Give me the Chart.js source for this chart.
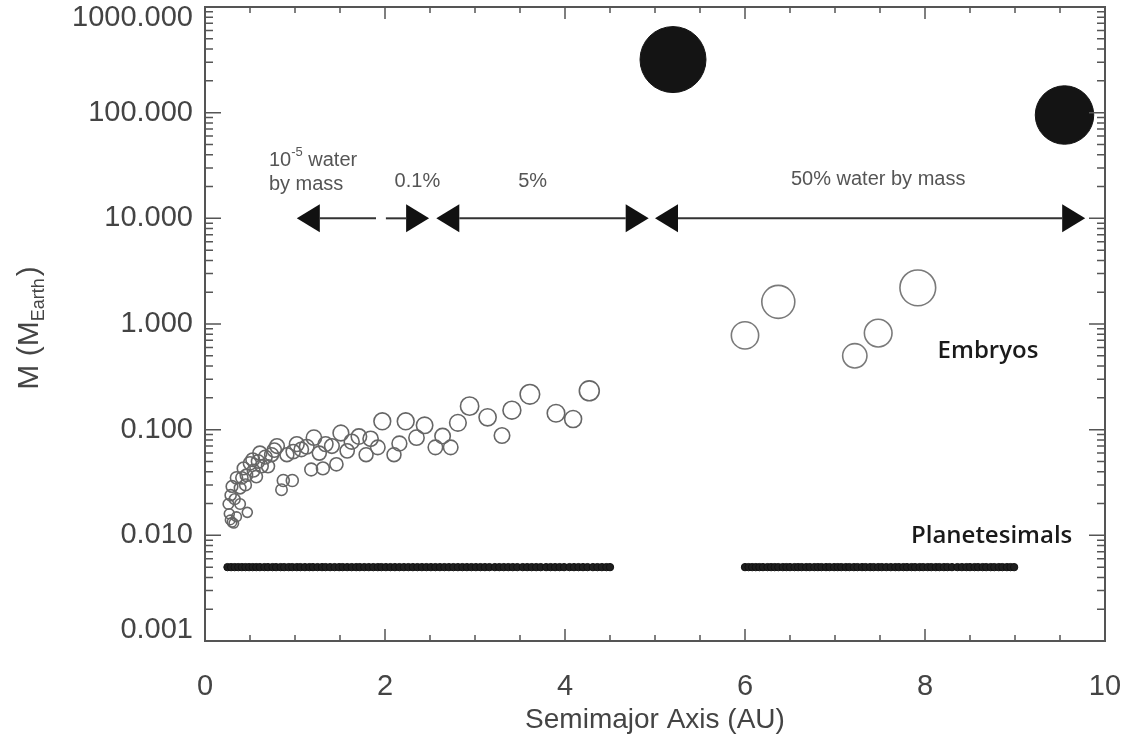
<!DOCTYPE html>
<html>
<head>
<meta charset="utf-8">
<script src="https://cdn.jsdelivr.net/npm/chart.js@4.4.0/dist/chart.umd.min.js"></script>
<style>
  html, body { margin: 0; padding: 0; background: #fff; }
  #wrap { width: 1130px; height: 755px; }
</style>
</head>
<body>
<div id="wrap"><canvas id="massChart"></canvas></div>
<script>
// Semimajor axis (AU) and mass (Earth masses)
const giantA = [5.2, 9.55];
const giantM = [318, 95];

const outerEmbryoA = [6.0, 6.37, 7.22, 7.48, 7.92];
const outerEmbryoM = [0.78, 1.62, 0.50, 0.82, 2.2];

const innerEmbryoA = [0.26, 0.27, 0.28, 0.285, 0.30, 0.30, 0.32, 0.33, 0.35, 0.35,
    0.39, 0.39, 0.41, 0.43, 0.46, 0.47, 0.50, 0.53, 0.54, 0.57,
    0.59, 0.63, 0.67, 0.70, 0.74, 0.80, 0.85, 0.87, 0.91, 0.97,
    0.98, 1.02, 1.07, 1.13, 1.18, 1.21, 1.27, 1.31, 1.34, 1.41,
    1.46, 1.51, 1.58, 1.63, 1.71, 1.79, 1.84, 1.92, 1.97, 2.10,
    2.16, 2.23, 2.35, 2.44, 2.56, 2.64, 2.73, 2.81, 2.94, 3.14,
    3.30, 3.41, 3.61, 3.90, 4.09, 4.27, 0.45, 0.61, 0.77];
const innerEmbryoM = [0.0198, 0.016, 0.014, 0.024, 0.0133, 0.029, 0.013, 0.022, 0.015, 0.035,
    0.028, 0.0198, 0.035, 0.043, 0.037, 0.0165, 0.048, 0.052, 0.041, 0.036,
    0.050, 0.045, 0.055, 0.045, 0.058, 0.070, 0.027, 0.033, 0.058, 0.033,
    0.062, 0.073, 0.065, 0.069, 0.042, 0.084, 0.060, 0.043, 0.073, 0.070,
    0.047, 0.093, 0.063, 0.077, 0.086, 0.058, 0.082, 0.068, 0.12, 0.058,
    0.074, 0.12, 0.084, 0.11, 0.068, 0.087, 0.068, 0.116, 0.167, 0.131,
    0.088, 0.153, 0.216, 0.143, 0.126, 0.233, 0.030, 0.060, 0.064];

const planetesimalInnerA = [0.25, 0.29, 0.33, 0.37, 0.41, 0.45, 0.49, 0.53, 0.57, 0.61,
    0.66, 0.70, 0.75, 0.79, 0.84, 0.88, 0.93, 0.97, 1.02, 1.06,
    1.11, 1.16, 1.20, 1.25, 1.30, 1.34, 1.39, 1.44, 1.49, 1.53,
    1.58, 1.63, 1.68, 1.72, 1.77, 1.82, 1.87, 1.92, 1.96, 2.01,
    2.06, 2.11, 2.16, 2.21, 2.26, 2.31, 2.36, 2.41, 2.46, 2.51,
    2.56, 2.61, 2.66, 2.71, 2.76, 2.81, 2.86, 2.91, 2.96, 3.01,
    3.06, 3.11, 3.16, 3.22, 3.27, 3.32, 3.37, 3.42, 3.47, 3.53,
    3.58, 3.63, 3.68, 3.73, 3.79, 3.84, 3.89, 3.94, 3.99, 4.05,
    4.10, 4.15, 4.20, 4.25, 4.31, 4.36, 4.41, 4.46, 4.50];
const planetesimalOuterA = [6.00, 6.04, 6.08, 6.12, 6.16, 6.20, 6.25, 6.29, 6.33, 6.37,
    6.42, 6.46, 6.50, 6.55, 6.59, 6.63, 6.68, 6.72, 6.77, 6.81,
    6.85, 6.90, 6.94, 6.99, 7.03, 7.07, 7.12, 7.16, 7.21, 7.25,
    7.30, 7.34, 7.39, 7.43, 7.48, 7.52, 7.57, 7.62, 7.67, 7.71, 7.76,
    7.80, 7.85, 7.89, 7.94, 7.98, 8.03, 8.07, 8.12, 8.16, 8.21,
    8.25, 8.30, 8.36, 8.41, 8.46, 8.50, 8.55, 8.59, 8.64, 8.68, 8.73, 8.77,
    8.82, 8.86, 8.91, 8.95, 8.99];
const planetesimalM = 0.005;

const massTicks = [0.001, 0.01, 0.1, 1, 10, 100, 1000];
const axisTicks = [0, 2, 4, 6, 8, 10];

// water content zones along M = 10
const zoneMass = 10;
const waterZones = [
    { from: 1.02, to: 1.90, headFrom: true, headTo: false },
    { from: 2.01, to: 2.49, headFrom: false, headTo: true },
    { from: 2.57, to: 4.93, headFrom: true, headTo: true },
    { from: 5.00, to: 9.78, headFrom: true, headTo: true }
];
const zoneLabels = [
    { parts: [['10', 0], ['-5', 1], [' water', 0]], a: 0.71, m: 35.5, align: 'left' },
    { parts: [['by mass', 0]], a: 0.71, m: 21, align: 'left' },
    { parts: [['0.1%', 0]], a: 2.36, m: 22.5, align: 'center' },
    { parts: [['5%', 0]], a: 3.64, m: 22.5, align: 'center' },
    { parts: [['50% water by mass', 0]], a: 7.48, m: 23.5, align: 'center' }
];
const groupLabels = [
    { text: 'Embryos', a: 8.70, m: 0.55, size: 24 },
    { text: 'Planetesimals', a: 8.74, m: 0.0098, size: 24 }
];

const SANS = "'Liberation Sans', Arial, Helvetica, sans-serif";
const toPoints = (xs, ys) => xs.map((x, i) => ({ x, y: ys[i] }));
const embryoRadius = m => 8 * Math.pow(m / 0.1, 0.26);
const giantRadius = m => 33 * Math.pow(m / 318, 0.1);

const frameAndNotes = {
    id: 'frameAndNotes',
    afterDatasetsDraw(chart) {
        const { ctx, chartArea: ca } = chart;
        const xs = chart.scales.x, ys = chart.scales.y;
        ctx.save();

        // frame
        ctx.strokeStyle = '#555';
        ctx.lineWidth = 2;
        ctx.strokeRect(ca.left, ca.top, ca.right - ca.left, ca.bottom - ca.top);

        // inward ticks on all four sides
        ctx.lineWidth = 1.5;
        ctx.beginPath();
        for (let v = 0; v <= 10; v += 0.5) {
            const px = xs.getPixelForValue(v);
            const len = v % 2 === 0 ? 12 : 6;
            ctx.moveTo(px, ca.bottom); ctx.lineTo(px, ca.bottom - len);
            ctx.moveTo(px, ca.top); ctx.lineTo(px, ca.top + len);
        }
        massTicks.forEach((d, i) => {
            const steps = i < massTicks.length - 1 ? 9 : 1;
            for (let k = 1; k <= steps; k++) {
                const py = ys.getPixelForValue(d * k);
                const len = k === 1 ? 16 : 8;
                ctx.moveTo(ca.left, py); ctx.lineTo(ca.left + len, py);
                ctx.moveTo(ca.right, py); ctx.lineTo(ca.right - len, py);
            }
        });
        ctx.stroke();

        // water zone arrows
        const ay = ys.getPixelForValue(zoneMass);
        const headLen = 23, headHalf = 14;
        ctx.strokeStyle = '#333';
        ctx.fillStyle = '#111';
        ctx.lineWidth = 2;
        waterZones.forEach(z => {
            const x0 = xs.getPixelForValue(z.from);
            const x1 = xs.getPixelForValue(z.to);
            ctx.beginPath();
            ctx.moveTo(x0 + (z.headFrom ? headLen : 0), ay);
            ctx.lineTo(x1 - (z.headTo ? headLen : 0), ay);
            ctx.stroke();
            if (z.headFrom) {
                ctx.beginPath();
                ctx.moveTo(x0, ay);
                ctx.lineTo(x0 + headLen, ay - headHalf);
                ctx.lineTo(x0 + headLen, ay + headHalf);
                ctx.closePath();
                ctx.fill();
            }
            if (z.headTo) {
                ctx.beginPath();
                ctx.moveTo(x1, ay);
                ctx.lineTo(x1 - headLen, ay - headHalf);
                ctx.lineTo(x1 - headLen, ay + headHalf);
                ctx.closePath();
                ctx.fill();
            }
        });

        // zone labels (with superscript support)
        ctx.fillStyle = '#555';
        ctx.textBaseline = 'middle';
        ctx.textAlign = 'left';
        zoneLabels.forEach(l => {
            const fontFor = sup => sup ? '13px ' + SANS : '20px ' + SANS;
            let total = 0;
            l.parts.forEach(([t, sup]) => { ctx.font = fontFor(sup); total += ctx.measureText(t).width; });
            let px = xs.getPixelForValue(l.a);
            if (l.align === 'center') px -= total / 2;
            const py = ys.getPixelForValue(l.m);
            l.parts.forEach(([t, sup]) => {
                ctx.font = fontFor(sup);
                ctx.fillText(t, px, sup ? py - 8 : py);
                px += ctx.measureText(t).width;
            });
        });

        // group labels
        ctx.fillStyle = '#1a1a1a';
        ctx.textAlign = 'center';
        groupLabels.forEach(l => {
            ctx.font = `600 ${l.size}px 'Open Sans', sans-serif`;
            ctx.fillText(l.text, xs.getPixelForValue(l.a), ys.getPixelForValue(l.m));
        });

        // y axis title: M (M_Earth)
        ctx.translate(30, (ca.top + ca.bottom) / 2 + 4);
        ctx.rotate(-Math.PI / 2);
        ctx.fillStyle = '#444';
        ctx.textAlign = 'left';
        const pieces = [['M (M', 30, 0], ['Earth', 18, 9], [')', 30, 0]];
        let w = 0;
        pieces.forEach(([t, s]) => { ctx.font = s + 'px ' + SANS; w += ctx.measureText(t).width + (t === ')' ? 2 : 0); });
        let tx = -w / 2;
        pieces.forEach(([t, s, dy]) => {
            ctx.font = s + 'px ' + SANS;
            if (t === ')') tx += 2;
            ctx.fillText(t, tx, dy);
            tx += ctx.measureText(t).width;
        });
        ctx.restore();
    }
};

new Chart(document.getElementById('massChart'), {
    type: 'scatter',
    data: {
        datasets: [
            {
                label: 'Planetesimals',
                data: [...planetesimalInnerA, ...planetesimalOuterA].map(a => ({ x: a, y: planetesimalM })),
                pointRadius: 3.7,
                backgroundColor: '#1e1e1e',
                borderColor: '#111',
                borderWidth: 1
            },
            {
                label: 'Inner embryos',
                data: toPoints(innerEmbryoA, innerEmbryoM),
                pointRadius: ctx => embryoRadius(ctx.raw.y),
                backgroundColor: 'rgba(0,0,0,0)',
                borderColor: '#666',
                borderWidth: 1.6
            },
            {
                label: 'Outer embryos',
                data: toPoints(outerEmbryoA, outerEmbryoM),
                pointRadius: ctx => embryoRadius(ctx.raw.y),
                backgroundColor: 'rgba(0,0,0,0)',
                borderColor: '#7a7a7a',
                borderWidth: 1.6
            },
            {
                label: 'Giants',
                data: toPoints(giantA, giantM),
                pointRadius: ctx => giantRadius(ctx.raw.y),
                backgroundColor: '#141414',
                borderColor: '#141414',
                borderWidth: 1
            }
        ]
    },
    options: {
        responsive: true,
        maintainAspectRatio: false,
        animation: false,
        events: [],
        layout: { autoPadding: false, padding: { top: 7, right: 25, bottom: 0, left: 0 } },
        plugins: {
            legend: { display: false },
            tooltip: { enabled: false }
        },
        scales: {
            x: {
                type: 'linear',
                min: 0,
                max: 10,
                grid: { display: false, drawTicks: false },
                border: { display: false },
                afterBuildTicks: scale => { scale.ticks = axisTicks.map(v => ({ value: v })); },
                afterFit: scale => {
                    scale.height = 114;
                    scale.paddingLeft = 0;
                    scale.paddingRight = 0;
                },
                ticks: {
                    padding: 29,
                    color: '#444',
                    font: { family: SANS, size: 29 }
                },
                title: {
                    display: true,
                    text: 'Semimajor Axis (AU)',
                    color: '#444',
                    font: { family: SANS, size: 28 },
                    padding: { top: 0, bottom: 18 }
                }
            },
            y: {
                type: 'logarithmic',
                min: 0.001,
                max: 1000,
                grid: { display: false, drawTicks: false },
                border: { display: false },
                afterBuildTicks: scale => { scale.ticks = massTicks.map(v => ({ value: v })); },
                afterFit: scale => {
                    scale.width = 205;
                    scale.paddingTop = 0;
                    scale.paddingBottom = 0;
                },
                ticks: {
                    padding: 12,
                    color: '#444',
                    font: { family: SANS, size: 29, lineHeight: 0.78 },
                    callback: (value, i, ticks) => {
                        const s = Number(value).toFixed(3);
                        if (i === ticks.length - 1) return ['', s];
                        if (i === 0) return [s, ''];
                        return s;
                    }
                }
            }
        }
    },
    plugins: [frameAndNotes]
});
</script>
</body>
</html>
